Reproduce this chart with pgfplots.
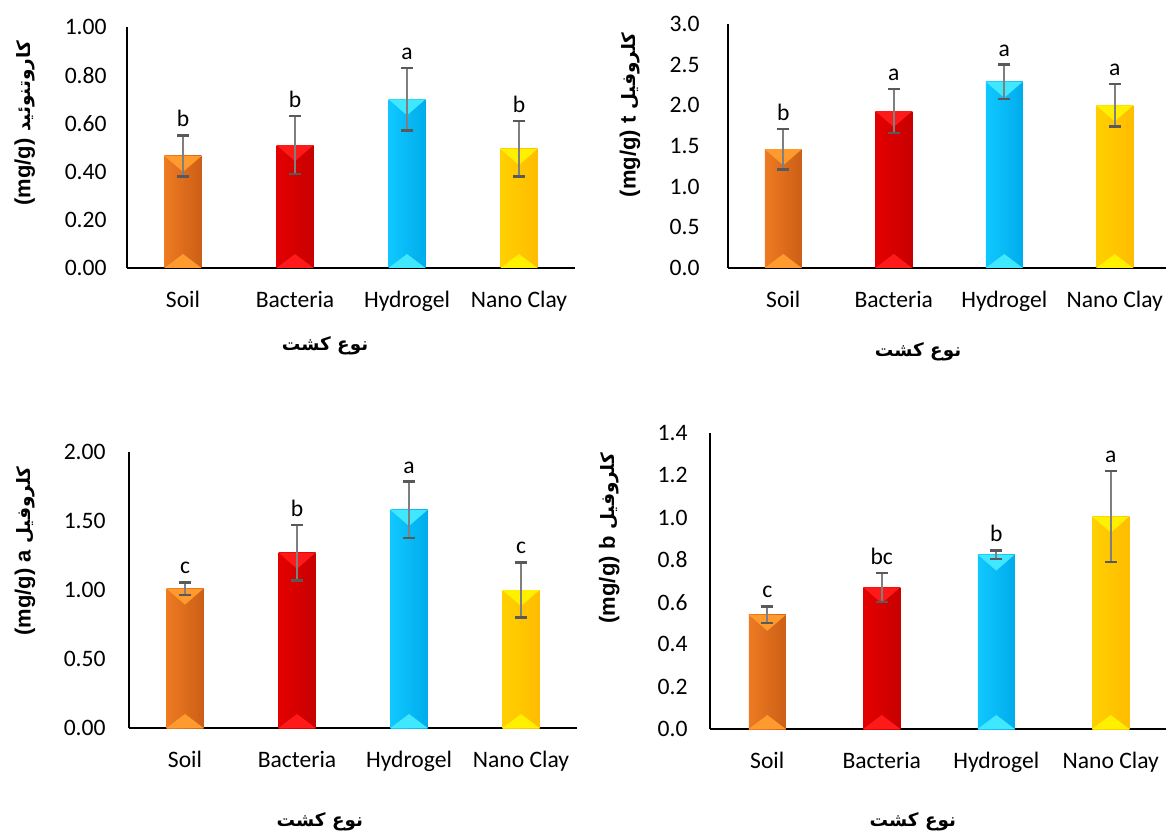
\documentclass[border=0pt]{standalone}
\usepackage{pgfplots}
\pgfplotsset{compat=1.18}
\usepackage{fontspec}
\setmainfont{Carlito}
\newfontfamily\arabicfont[Script=Arabic]{DejaVu Sans}
\newfontfamily\latb{Liberation Sans}
\TeXXeTstate=1

\definecolor{soilL}{HTML}{EE7A22}
\definecolor{soilR}{HTML}{CC5F16}
\definecolor{soilT}{HTML}{FF9A2E}
\definecolor{bacL}{HTML}{E40000}
\definecolor{bacR}{HTML}{C80000}
\definecolor{bacT}{HTML}{FF1A1A}
\definecolor{hydL}{HTML}{10C8FF}
\definecolor{hydR}{HTML}{00ACEC}
\definecolor{hydT}{HTML}{40E8FF}
\definecolor{nanL}{HTML}{FFD000}
\definecolor{nanR}{HTML}{FFBC00}
\definecolor{nanT}{HTML}{FFF000}
\definecolor{errc}{HTML}{7F7F7F}
\definecolor{errd}{HTML}{595959}

\newcommand\bevel[1]{%
  \pgfpathmoveto{\pgfpointanchor{path picture bounding box}{north west}}%
  \pgfpathlineto{\pgfpointanchor{path picture bounding box}{north east}}%
  \pgfpathlineto{\pgfpointadd{\pgfpointanchor{path picture bounding box}{north}}{\pgfpoint{0pt}{-8pt}}}%
  \pgfpathclose
  \pgfpathmoveto{\pgfpointanchor{path picture bounding box}{south west}}%
  \pgfpathlineto{\pgfpointanchor{path picture bounding box}{south east}}%
  \pgfpathlineto{\pgfpointadd{\pgfpointanchor{path picture bounding box}{south}}{\pgfpoint{0pt}{7pt}}}%
  \pgfpathclose
  \pgfsetfillcolor{#1}\pgfusepath{fill}}

\newcommand\arab{\arabicfont\bfseries\fontsize{9.2}{11}\selectfont}
\newcommand\latlab[1]{{\latb\bfseries\fontsize{11}{13}\selectfont #1}}

\pgfplotsset{
  panel/.style={
    scale only axis, anchor=south west,
    xmin=-0.5, xmax=3.5, ymin=0,
    xtick={0,1,2,3}, xticklabels={Soil,Bacteria,Hydrogel,Nano Clay},
    axis x line*=bottom, axis y line*=left, axis line style={-},
    x axis line style={line width=1.2pt},
    y axis line style={line width=0.8pt},
    major tick length=0pt, tick style={draw=none},
    tick label style={font=\fontsize{11.8}{14}\selectfont, inner sep=0pt},
    xticklabel style={anchor=north, yshift=-11.5pt},
    yticklabel style={anchor=east, xshift=-10pt,
      /pgf/number format/fixed, /pgf/number format/fixed zerofill},
    /pgf/number format/assume math mode=true,
    ylabel style={anchor=center},
    xlabel style={anchor=center, font=\arab},
    xlabel={\beginR نوع کشت\endR},
    clip=false,
  },
  mybar/.style n args={3}{ybar, bar width=18.5pt, bar shift=0pt, draw=none,
    left color=#1, right color=#2,
    path picture={\bevel{#3}},
    error bars/.cd, y dir=both, y explicit,
      error bar style={color=errc, line width=1.2pt, path picture={}, shading=axis, fill=none},
      error mark options={rotate=90, mark size=3pt, line width=1.2pt, color=errd, path picture={}}},
  letters/.style={draw=none, mark=none, nodes near coords, point meta=explicit symbolic,
    nodes near coords style={font=\fontsize{11.8}{14}\selectfont, anchor=south,
      inner sep=0pt, yshift=4pt}},
}

\begin{document}
\begin{tikzpicture}
\useasboundingbox (0,0) rectangle (583pt,417.5pt);

% Panel 1: carotenoid
\begin{axis}[panel, at={(63.5pt,283.5pt)}, width=224pt, height=120.5pt,
  ymax=1, ytick={0,0.2,0.4,0.6,0.8,1.0},
  yticklabel style={/pgf/number format/precision=2},
  ylabel={\arab\beginR کاروتنوئید \beginL\latlab{(mg/g)}\endL\endR},
  ylabel style={at={(rel axis cs:-0.228,0.60)}},
  xlabel style={at={(rel axis cs:0.442,-0.324)}}]
\addplot[mybar={soilL}{soilR}{soilT}] coordinates {(0,0.465) +- (0,0.085)};
\addplot[mybar={bacL}{bacR}{bacT}] coordinates {(1,0.51) +- (0,0.12)};
\addplot[mybar={hydL}{hydR}{hydT}] coordinates {(2,0.70) +- (0,0.13)};
\addplot[mybar={nanL}{nanR}{nanT}] coordinates {(3,0.494) +- (0,0.115)};
\addplot[letters] table[meta=l] {
x y l
0 0.550 b
1 0.630 b
2 0.830 a
3 0.609 b
};
\end{axis}

% Panel 2: chlorophyll t
\begin{axis}[panel, at={(364pt,283.5pt)}, width=221pt, height=122pt,
  ymax=3, ytick={0,0.5,1,1.5,2,2.5,3},
  yticklabel style={/pgf/number format/precision=1, xshift=-4pt},
  ylabel={\arab\beginR کلروفیل \beginL\latlab{t}\endL{} \beginL\latlab{(mg/g)}\endL\endR},
  ylabel style={at={(rel axis cs:-0.222,0.627)}},
  xlabel style={at={(rel axis cs:0.43,-0.344)}}]
\addplot[mybar={soilL}{soilR}{soilT}] coordinates {(0,1.46) +- (0,0.25)};
\addplot[mybar={bacL}{bacR}{bacT}] coordinates {(1,1.93) +- (0,0.27)};
\addplot[mybar={hydL}{hydR}{hydT}] coordinates {(2,2.29) +- (0,0.21)};
\addplot[mybar={nanL}{nanR}{nanT}] coordinates {(3,2.00) +- (0,0.26)};
\addplot[letters] table[meta=l] {
x y l
0 1.71 b
1 2.20 a
2 2.50 a
3 2.26 a
};
\end{axis}

% Panel 3: chlorophyll a
\begin{axis}[panel, at={(64.5pt,53.5pt)}, width=224pt, height=138pt,
  ymax=2, ytick={0,0.5,1,1.5,2},
  yticklabel style={/pgf/number format/precision=2, xshift=-1.5pt},
  ylabel={\arab\beginR کلروفیل \beginL\latlab{a}\endL{} \beginL\latlab{(mg/g)}\endL\endR},
  ylabel style={at={(rel axis cs:-0.232,0.641)}},
  xlabel style={at={(rel axis cs:0.426,-0.34)}}]
\addplot[mybar={soilL}{soilR}{soilT}] coordinates {(0,1.01) +- (0,0.045)};
\addplot[mybar={bacL}{bacR}{bacT}] coordinates {(1,1.27) +- (0,0.20)};
\addplot[mybar={hydL}{hydR}{hydT}] coordinates {(2,1.58) +- (0,0.205)};
\addplot[mybar={nanL}{nanR}{nanT}] coordinates {(3,1.00) +- (0,0.20)};
\addplot[letters] table[meta=l] {
x y l
0 1.055 c
1 1.47 b
2 1.785 a
3 1.20 c
};
\end{axis}

% Panel 4: chlorophyll b
\begin{axis}[panel, at={(355pt,53pt)}, width=229pt, height=148pt,
  ymax=1.4, ytick={0,0.2,0.4,0.6,0.8,1.0,1.2,1.4},
  yticklabel style={/pgf/number format/precision=1, xshift=-1pt},
  ylabel={\arab\beginR کلروفیل \beginL\latlab{b}\endL{} \beginL\latlab{(mg/g)}\endL\endR},
  ylabel style={at={(rel axis cs:-0.22,0.645)}},
  xlabel style={at={(rel axis cs:0.443,-0.314)}}]
\addplot[mybar={soilL}{soilR}{soilT}] coordinates {(0,0.54) +- (0,0.04)};
\addplot[mybar={bacL}{bacR}{bacT}] coordinates {(1,0.67) +- (0,0.068)};
\addplot[mybar={hydL}{hydR}{hydT}] coordinates {(2,0.825) +- (0,0.02)};
\addplot[mybar={nanL}{nanR}{nanT}] coordinates {(3,1.005) +- (0,0.215)};
\addplot[letters] table[meta=l] {
x y l
0 0.58 c
1 0.738 bc
2 0.845 b
3 1.22 a
};
\end{axis}
\end{tikzpicture}
\end{document}
